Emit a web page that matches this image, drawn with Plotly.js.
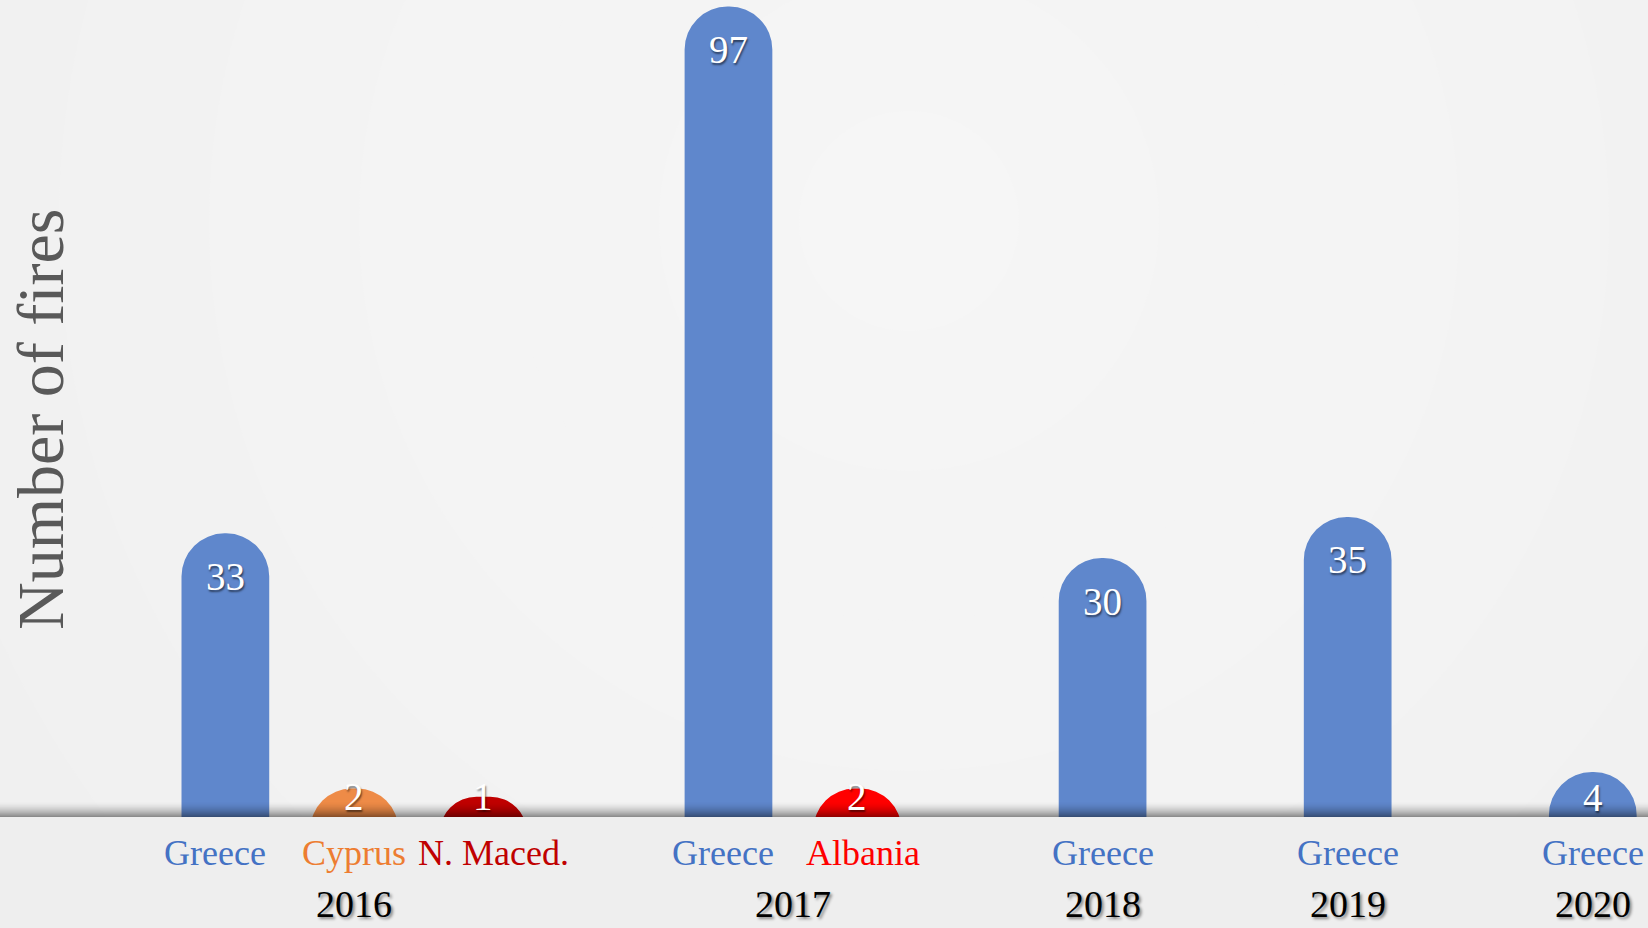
<!DOCTYPE html>
<html>
<head>
<meta charset="utf-8">
<script src="https://cdn.plot.ly/plotly-3.0.1.min.js"></script>
<style>html,body{margin:0;padding:0;background:#efefef;}#chart{width:1648px;height:928px;}</style>
</head>
<body>
<div id="chart"></div>
<script>
// ---- data ----
const years = ['2016', '2016', '2016', '2017', '2017', '2018', '2019', '2020'];
const countries = ['Greece', 'Cyprus', 'N. Maced.', 'Greece', 'Albania', 'Greece', 'Greece', 'Greece'];
const fires = [33, 2, 1, 97, 2, 30, 35, 4];
const yAxisTitle = 'Number of fires';

// ---- styles ----
const barColors = { 'Greece': '#5F87CC', 'Cyprus': '#EE8B47', 'N. Maced.': '#C00000', 'Albania': '#FF0000' };
const labelColors = { 'Greece': '#4472C4', 'Cyprus': '#ED7D31', 'N. Maced.': '#C00000', 'Albania': '#FF0000' };
const FONT = '"Liberation Serif", "DejaVu Serif", serif';

const W = 1648, H = 928, plotH = 817, marginB = H - plotH;
const groupGap = 0.9;                 // extra slot fraction between year groups
const labelSpread = 1.08;             // country labels spread slightly wider than bars
const xRange = [-1.747, 11.028];
const yRange = [-1.46, 97.8];
const pxPerY = plotH / (yRange[1] - yRange[0]);
const yZeroPx = plotH - (0 - yRange[0]) * pxPerY;
const hiddenBase = -8;                // bars start below the visible floor

// positions: each new year leaves a gap
const uniqueYears = [...new Set(years)];
const pos = years.map((y, i) => i + groupGap * uniqueYears.indexOf(y));
const groupCenter = y => {
  const ps = pos.filter((p, i) => years[i] === y);
  return ps.reduce((a, b) => a + b, 0) / ps.length;
};

const trace = {
  type: 'bar',
  x: pos,
  y: fires.map(v => v - hiddenBase),
  base: hiddenBase,
  width: 0.68,
  marker: { color: countries.map(c => barColors[c]), cornerradius: '50%', line: { width: 0 } },
  hoverinfo: 'skip'
};

const annotations = [];
// value labels
fires.forEach((v, i) => {
  const topPx = yZeroPx - v * pxPerY;
  const shift = Math.min(43, 797 - topPx);
  annotations.push({
    x: pos[i], y: v, xref: 'x', yref: 'y', text: String(v), showarrow: false,
    yanchor: 'middle', xanchor: 'center', yshift: -shift,
    font: { family: FONT, size: 39, color: '#ffffff', shadow: '1px 2px 2px rgba(0,0,0,0.55)' }
  });
});
// country labels
countries.forEach((c, i) => {
  const gc = groupCenter(years[i]);
  annotations.push({
    x: gc + (pos[i] - gc) * labelSpread, y: (plotH - 853) / plotH, xref: 'x', yref: 'paper',
    text: c, showarrow: false, yanchor: 'middle', xanchor: 'center',
    font: { family: FONT, size: 36, color: labelColors[c] }
  });
});
// year labels
uniqueYears.forEach(y => {
  annotations.push({
    x: groupCenter(y), y: (plotH - 904) / plotH, xref: 'x', yref: 'paper', text: y, showarrow: false,
    yanchor: 'middle', xanchor: 'center',
    font: { family: FONT, size: 38, color: '#000000', shadow: '2px 2px 3px rgba(0,0,0,0.45)' }
  });
});
// y axis title
annotations.push({
  x: 40 / W, y: (plotH - 419) / plotH, xref: 'paper', yref: 'paper', text: yAxisTitle,
  showarrow: false, textangle: -90, xanchor: 'center', yanchor: 'middle',
  font: { family: FONT, size: 66, color: '#595959' }
});

// background: soft radial glow built from concentric circles
const shapes = [];
const cx = 909, cy = 221;
const radii = [1150, 1000, 850, 700, 550, 400, 250, 110];
const greys = [240, 241, 242, 243, 243.5, 244, 245, 246];
radii.forEach((r, k) => {
  const g = Math.round(greys[k]);
  shapes.push({
    type: 'circle', xref: 'paper', yref: 'paper', layer: 'below',
    x0: (cx - r) / W, x1: (cx + r) / W, y0: (plotH - (cy + r)) / plotH, y1: (plotH - (cy - r)) / plotH,
    fillcolor: `rgb(${g},${g},${g})`, line: { width: 0 }
  });
});
// flat floor below baseline
shapes.push({
  type: 'rect', xref: 'paper', yref: 'paper', layer: 'below',
  x0: 0, x1: 1, y0: -marginB / plotH, y1: 0, fillcolor: '#eeeeee', line: { width: 0 }
});
// baseline shadow band
const bandPx = 15;
for (let j = 0; j < bandPx; j++) {
  const t = (j + 1) / bandPx;
  const a = 0.42 * Math.pow(t, 1.6);
  shapes.push({
    type: 'rect', xref: 'paper', yref: 'paper', layer: 'above',
    x0: 0, x1: 1, y0: (bandPx - j - 1) / plotH, y1: (bandPx - j) / plotH,
    fillcolor: `rgba(0,0,0,${a.toFixed(3)})`, line: { width: 0 }
  });
}

const layout = {
  width: W, height: H,
  margin: { l: 0, r: 0, t: 0, b: marginB, pad: 0 },
  paper_bgcolor: '#efefef',
  plot_bgcolor: 'rgba(0,0,0,0)',
  showlegend: false,
  xaxis: { range: xRange, visible: false, fixedrange: true },
  yaxis: { range: yRange, visible: false, fixedrange: true },
  annotations: annotations,
  shapes: shapes
};

Plotly.newPlot('chart', [trace], layout, { displayModeBar: false, staticPlot: true });
</script>
</body>
</html>
